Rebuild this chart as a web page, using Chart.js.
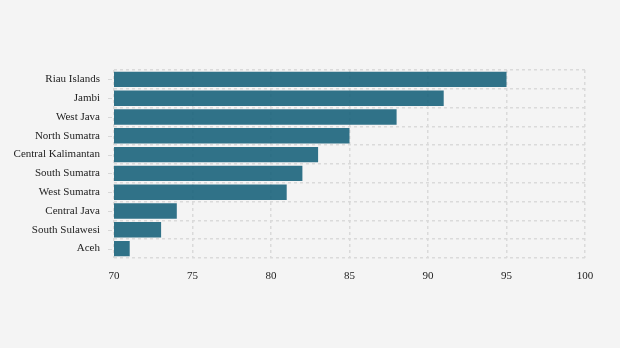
<!DOCTYPE html>
<html lang="en">
<head>
  <meta charset="UTF-8" />
  <title>Provinces</title>
  <script src="https://cdn.jsdelivr.net/npm/chart.js"></script>
  <style>
    html, body {
      margin: 0;
      padding: 0;
      background-color: #f4f4f4;
    }
    #wrap {
      width: 620px;
      height: 348px;
    }
  </style>
</head>
<body>
  <div id="wrap"><canvas id="chart"></canvas></div>

  <script>
    const provinces = [
      'Riau Islands', 'Jambi', 'West Java', 'North Sumatra', 'Central Kalimantan',
      'South Sumatra', 'West Sumatra', 'Central Java', 'South Sulawesi', 'Aceh'
    ];
    const values = [95, 91, 88, 85, 83, 82, 81, 74, 73, 71];
    const xTicks = [70, 75, 80, 85, 90, 95, 100];

    // short tick marks at the centre of each category (grid lines sit between them)
    const centreTicks = {
      id: 'centreTicks',
      afterDraw(chart) {
        const y = chart.scales.y;
        const ctx = chart.ctx;
        ctx.save();
        ctx.strokeStyle = '#d6d6d6';
        ctx.lineWidth = 1;
        provinces.forEach((p, i) => {
          const py = Math.round(y.getPixelForTick(i)) + 0.5;
          ctx.beginPath();
          ctx.moveTo(chart.chartArea.left - 6, py);
          ctx.lineTo(chart.chartArea.left - 2, py);
          ctx.stroke();
        });
        ctx.restore();
      }
    };

    const grid = {
      color: '#dadada',
      lineWidth: 1.5
    };

    new Chart(document.getElementById('chart'), {
      type: 'bar',
      data: {
        labels: provinces,
        datasets: [{
          data: values,
          backgroundColor: 'rgba(30, 102, 126, 0.92)',
          borderWidth: 0,
          barPercentage: 0.82,
          categoryPercentage: 1
        }]
      },
      plugins: [centreTicks],
      options: {
        indexAxis: 'y',
        responsive: true,
        maintainAspectRatio: false,
        animation: false,
        layout: { padding: { top: 70, right: 35, left: 0, bottom: 0 } },
        plugins: {
          legend: { display: false },
          tooltip: { enabled: false }
        },
        scales: {
          x: {
            min: 70,
            max: 100,
            afterBuildTicks: (s) => { s.ticks = xTicks.map(v => ({ value: v })); },
            afterFit: (s) => { s.height = 90; },
            border: { display: false, dash: [3, 3] },
            grid: { ...grid, drawTicks: false },
            ticks: {
              padding: 12,
              color: '#222',
              font: { family: '"Liberation Serif", serif', size: 11 }
            }
          },
          y: {
            afterFit: (s) => { s.width = 114; },
            border: { display: false, dash: [3, 3] },
            grid: { ...grid, offset: true, drawTicks: false },
            ticks: {
              padding: 14,
              color: '#222',
              font: { family: '"Liberation Serif", serif', size: 11 }
            }
          }
        }
      }
    });
  </script>
</body>
</html>
